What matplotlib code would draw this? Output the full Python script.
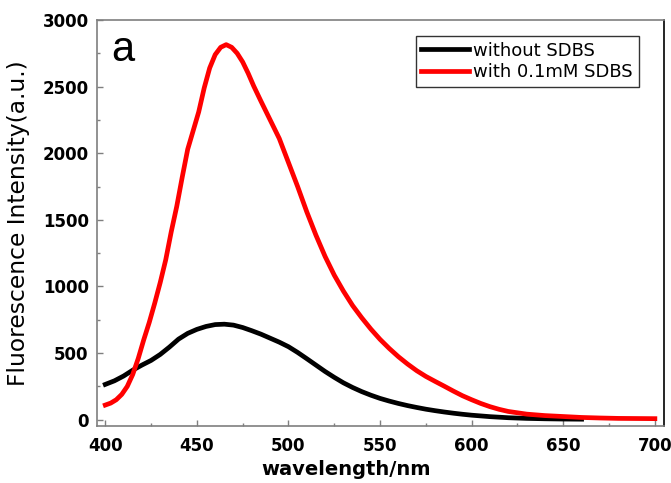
import matplotlib
matplotlib.use("Agg")
import matplotlib.pyplot as plt
from matplotlib.ticker import MultipleLocator

# black curve: without SDBS
wl_black = [400, 405, 410, 415, 420, 425, 430, 435, 440, 445, 450, 455, 460, 465,
            470, 475, 480, 485, 490, 495, 500, 505, 510, 515, 520, 525, 530, 535,
            540, 545, 550, 555, 560, 565, 570, 575, 580, 585, 590, 595, 600, 610,
            620, 630, 640, 650, 660]
int_black = [265, 292, 328, 372, 410, 445, 490, 545, 605, 648, 678, 700, 714, 717,
             710, 692, 668, 642, 612, 582, 548, 505, 458, 410, 362, 318, 277, 242,
             211, 184, 160, 140, 122, 106, 92, 79, 68, 58, 49, 41, 34, 23,
             15, 10, 7, 5, 4]

# red curve: with 0.1mM SDBS
wl_red = [400, 403, 406, 409, 412, 415, 418, 421, 424, 427, 430, 433, 436, 439,
          442, 445, 448, 451, 454, 457, 460, 463, 466, 469, 472, 475, 478, 481,
          485, 490, 495, 500, 505, 510, 515, 520, 525, 530, 535, 540, 545, 550,
          555, 560, 565, 570, 575, 580, 585, 590, 595, 600, 605, 610, 615, 620,
          630, 640, 650, 660, 670, 680, 690, 700]
int_red = [110, 125, 150, 190, 250, 340, 460, 600, 730, 875, 1030, 1200, 1410, 1600,
           1820, 2030, 2170, 2310, 2490, 2640, 2740, 2795, 2815, 2795, 2750, 2685, 2600, 2505,
           2390, 2250, 2110, 1930, 1750, 1560, 1385, 1225, 1085, 965, 857, 765, 680, 603,
           535, 473, 418, 368, 325, 288, 252, 215, 180, 150, 122, 98, 78, 62,
           42, 31, 24, 17, 13, 10, 9, 8]

labels = ["without SDBS", "with 0.1mM SDBS"]

plt.rcParams['font.family'] = ['DejaVu Sans']

fig = plt.figure(figsize=(6.71, 4.83), dpi=100)
ax = fig.add_axes([0.1446, 0.1186, 0.845, 0.84])

ax.plot(wl_black, int_black, color='black', lw=3.4, label=labels[0])
ax.plot(wl_red, int_red, color='#ff0000', lw=3.4, label=labels[1])

ax.set_xlim(395.5, 705)
ax.set_ylim(-45, 3000)
ax.xaxis.set_major_locator(MultipleLocator(50))
ax.xaxis.set_minor_locator(MultipleLocator(25))
ax.yaxis.set_major_locator(MultipleLocator(500))
ax.yaxis.set_minor_locator(MultipleLocator(250))

for s in ['left', 'bottom', 'top']:
    ax.spines[s].set_color('#7f7f7f')
    ax.spines[s].set_linewidth(1.2)
ax.spines['right'].set_color('black')
ax.spines['right'].set_linewidth(1.2)

ax.tick_params(which='both', direction='in', color='#7f7f7f', top=False, right=False)
ax.tick_params(which='major', length=4.5, width=1)
ax.tick_params(which='minor', length=2.5, width=1)
ax.tick_params(axis='y', pad=6)
ax.tick_params(axis='x', pad=8)
for lab in ax.get_xticklabels() + ax.get_yticklabels():
    lab.set_fontweight('bold')
    lab.set_fontsize(12)

ax.set_xlabel('wavelength/nm', fontsize=14, fontweight='bold')
ax.xaxis.set_label_coords(0.439, -0.085)
ax.set_ylabel('Fluorescence Intensity(a.u.)', fontsize=16.8, labelpad=9)

ax.text(0.025, 0.975, 'a', transform=ax.transAxes, fontsize=30,
        family='Liberation Sans', ha='left', va='top')

leg = ax.legend(loc='upper right', bbox_to_anchor=(0.955, 0.96), fontsize=13,
                frameon=True, fancybox=False, edgecolor='black', handlelength=2.65,
                handletextpad=0.25, borderpad=0.3, labelspacing=0.2, borderaxespad=0)
leg.get_frame().set_linewidth(1)

fig.savefig('out.png', dpi=100)
